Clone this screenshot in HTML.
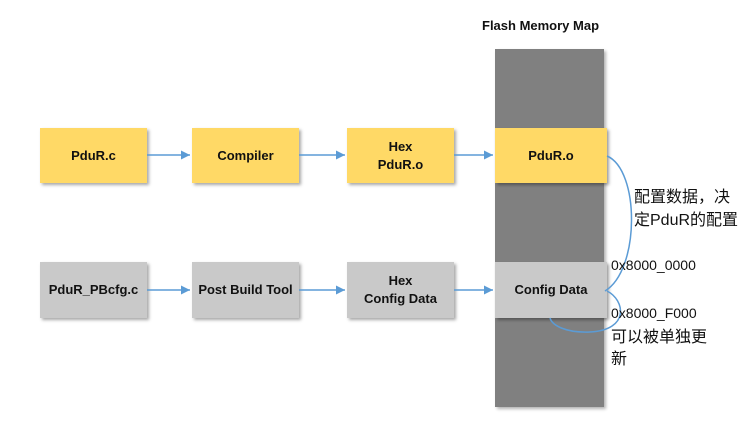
<!DOCTYPE html>
<html><head><style>
body{margin:0;width:741px;height:432px;background:#fff;position:relative;font-family:"Comic Sans MS","Liberation Sans",sans-serif;overflow:hidden}
.b{position:absolute;display:flex;align-items:center;justify-content:center;text-align:center;font-size:13px;font-weight:bold;color:#111;box-shadow:2px 2px 3px rgba(0,0,0,.35);line-height:18px}
.y{background:#FFD966}.g{background:#C9C9C9}
.t{position:absolute;font-family:"Liberation Sans","Noto Sans CJK SC",sans-serif;font-size:14px;color:#111}
</style></head><body>
<div style="position:absolute;left:495px;top:49px;width:109px;height:358px;background:#808080;box-shadow:2px 2px 3px rgba(0,0,0,.3)"></div>
<div class="t" style="left:482px;top:18px;font-weight:bold;font-size:13px">Flash Memory Map</div>
<div class="b y" style="left:40px;top:128px;width:107px;height:55px">PduR.c</div>
<div class="b y" style="left:192px;top:128px;width:107px;height:55px">Compiler</div>
<div class="b y" style="left:347px;top:128px;width:107px;height:55px">Hex<br>PduR.o</div>
<div class="b y" style="left:495px;top:128px;width:112px;height:55px">PduR.o</div>
<div class="b g" style="left:40px;top:262px;width:107px;height:56px">PduR_PBcfg.c</div>
<div class="b g" style="left:192px;top:262px;width:107px;height:56px">Post Build Tool</div>
<div class="b g" style="left:347px;top:262px;width:107px;height:56px">Hex<br>Config Data</div>
<div class="b g" style="left:495px;top:262px;width:112px;height:56px">Config Data</div>
<svg width="741" height="432" style="position:absolute;left:0;top:0">
<defs><marker id="a" markerWidth="8" markerHeight="8" refX="6" refY="4" orient="auto"><path d="M0,1 L6,4 L0,7" fill="#5B9BD5"/></marker></defs>
<g stroke="#5B9BD5" stroke-width="1.5" fill="none">
<line x1="147" y1="155" x2="190" y2="155" marker-end="url(#a)"/>
<line x1="299" y1="155" x2="345" y2="155" marker-end="url(#a)"/>
<line x1="454" y1="155" x2="493" y2="155" marker-end="url(#a)"/>
<line x1="147" y1="290" x2="190" y2="290" marker-end="url(#a)"/>
<line x1="299" y1="290" x2="345" y2="290" marker-end="url(#a)"/>
<line x1="454" y1="290" x2="493" y2="290" marker-end="url(#a)"/>
<path d="M607,156 C640,170 640,270 605,291"/>
<path d="M607,291 C625,300 630,330 590,332 C565,333 552,325 550,318"/>
</g></svg>
<div class="t" style="left:634px;top:186px;line-height:23px;font-size:16px">配置数据，决<br>定PduR的配置</div>
<div class="t" style="left:611px;top:257px">0x8000_0000</div>
<div class="t" style="left:611px;top:305px">0x8000_F000</div>
<div class="t" style="left:611px;top:327px;line-height:22px;font-size:16px">可以被单独更<br>新</div>
</body></html>
